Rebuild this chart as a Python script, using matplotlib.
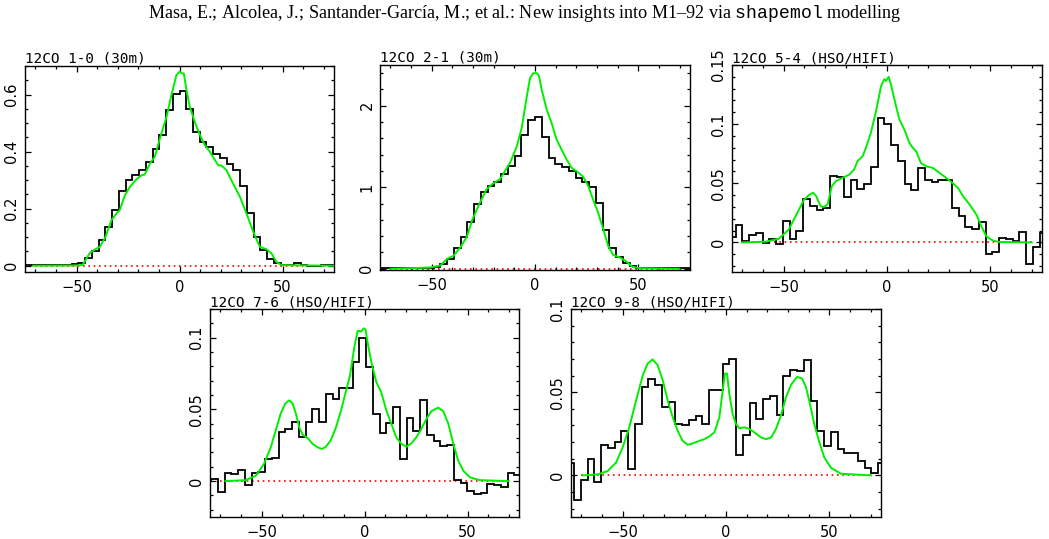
import numpy as np
import matplotlib
matplotlib.use('Agg')
import matplotlib.pyplot as plt
from matplotlib.ticker import MultipleLocator, FuncFormatter

# channel width of the observed spectra (km/s)
DV = 3.27

# --- 12CO 1-0 (30m) ---
co10_edge0 = -75.21
co10_obs = [0.002, 0.002, 0.002, 0.002, 0.002, 0.002, 0.003, 0.006, 0.010, 0.026,
            0.050, 0.090, 0.134, 0.195, 0.263, 0.300, 0.317, 0.337, 0.364, 0.408,
            0.458, 0.545, 0.603, 0.613, 0.549, 0.469, 0.434, 0.417, 0.393, 0.376,
            0.356, 0.335, 0.280, 0.185, 0.100, 0.055, 0.025, 0.010, 0.002, 0.002,
            0.008, 0.001, 0.000, -0.002, 0.001, 0.003]
co10_mod_v = [-71, -50, -47, -43.5, -41.5, -38.7, -36, -33, -30.6, -29, -26.5, -24,
              -21, -18.4, -16.8, -14.4, -12, -9.5, -6.3, -3.9, -1.5, 0, 1.3, 2.1,
              3.4, 5, 7.4, 9.9, 12.3, 14.7, 17.2, 18.8, 20.4, 22.8, 26, 29.3, 32.5,
              35.8, 39, 42.2, 44.7, 47, 49.5, 74.6]
co10_mod_t = [0.0, 0.001, 0.003, 0.045, 0.055, 0.066, 0.100, 0.160, 0.183, 0.195,
              0.247, 0.277, 0.302, 0.317, 0.320, 0.358, 0.382, 0.446, 0.522, 0.598,
              0.668, 0.680, 0.674, 0.674, 0.615, 0.557, 0.504, 0.458, 0.423, 0.400,
              0.370, 0.352, 0.351, 0.335, 0.288, 0.242, 0.183, 0.119, 0.066, 0.058,
              0.043, 0.014, 0.002, 0.0]

# --- 12CO 2-1 (30m) ---
co21_edge0 = -75.21
co21_obs = [0.01, 0.01, 0.01, 0.01, 0.01, 0.01, 0.01, 0.01, 0.02, 0.06,
            0.12, 0.25, 0.39, 0.57, 0.80, 0.94, 1.02, 1.07, 1.16, 1.26,
            1.38, 1.64, 1.82, 1.86, 1.62, 1.36, 1.29, 1.25, 1.20, 1.11,
            1.06, 1.00, 0.81, 0.48, 0.26, 0.14, 0.07, 0.03, 0.01, 0.005,
            0.005, 0.005, 0.005, 0.005, 0.005, 0.005]
co21_mod_v = [-70, -50.6, -45.8, -42.6, -39.4, -36.2, -33, -30.5, -28.1, -25.7, -23.3,
              -20.1, -16.9, -14.5, -12.1, -8.8, -6.4, -4.0, -2.4, -0.8, 0.8, 1.9,
              3.2, 5.6, 8.0, 10.4, 12.9, 15.3, 17.7, 20.9, 23.3, 25.7, 28.1, 30.5,
              33.0, 35.4, 37.8, 41.0, 44.2, 47.1, 50.6, 70]
co21_mod_t = [0.0, 0.016, 0.04, 0.12, 0.16, 0.26, 0.39, 0.59, 0.73, 0.86, 0.98,
              1.05, 1.10, 1.20, 1.30, 1.50, 1.73, 2.11, 2.34, 2.40, 2.40, 2.37,
              2.20, 1.96, 1.79, 1.59, 1.46, 1.34, 1.24, 1.18, 1.13, 1.02, 0.85, 0.69,
              0.49, 0.28, 0.17, 0.14, 0.09, 0.024, 0.008, 0.0]

# --- 12CO 5-4 (HSO/HIFI) ---
co54_edge0 = -76.51
co54_obs = [0.005, 0.015, 0.001, 0.0065, 0.008, -0.0005, 0.003, -0.001, 0.018, 0.003,
            0.010, 0.037, 0.031, 0.027, 0.029, 0.0565, 0.0555, 0.038, 0.053, 0.045,
            0.049, 0.064, 0.105, 0.100, 0.082, 0.069, 0.049, 0.044, 0.063, 0.053,
            0.051, 0.0525, 0.0525, 0.029, 0.022, 0.013, 0.011, 0.017, -0.010, -0.008,
            0.004, 0.003, 0.0015, 0.0085, -0.018, -0.0035, 0.008]
co54_mod_v = [-70.2, -58.8, -52.4, -47.5, -43.4, -40.2, -37.8, -35.7, -34.2, -32.1,
              -30.5, -28.8, -26.7, -24.8, -21.6, -18.3, -15.9, -14.3, -11.8, -10.2,
              -7.8, -5.3, -2.9, -1.3, -0.5, 0.8, 1.9, 4.4, 6.0, 8.4, 10.9, 12.5, 14.1,
              16.5, 19.0, 22.2, 25.4, 28.7, 31.9, 34.4, 36.8, 40.0, 43.3, 45.7, 48.1,
              51.4, 54.6, 70]
co54_mod_t = [0.0, 0.0006, 0.003, 0.011, 0.025, 0.036, 0.040, 0.042, 0.039, 0.0305,
              0.030, 0.032, 0.0475, 0.0517, 0.0545, 0.0573, 0.0616, 0.0686, 0.0729, 0.080,
              0.0927, 0.111, 0.132, 0.138, 0.1365, 0.140, 0.1336, 0.115, 0.104, 0.0955,
              0.084, 0.080, 0.077, 0.067, 0.0644, 0.063, 0.0588, 0.0545, 0.050, 0.046,
              0.039, 0.032, 0.0234, 0.0136, 0.005, 0.0014, 0.0003, 0.0]

# --- 12CO 7-6 (HSO/HIFI) ---
co76_edge0 = -77.65
co76_obs = [0.0, 0.0014, -0.0075, 0.006, 0.005, 0.008, -0.0026, 0.0054, 0.0065, 0.0154,
            0.016, 0.034, 0.0365, 0.041, 0.031, 0.041, 0.050, 0.041, 0.061, 0.0575,
            0.065, 0.065, 0.083, 0.0995, 0.0797, 0.047, 0.0334, 0.0407, 0.0516, 0.0154,
            0.044, 0.0353, 0.0568, 0.0325, 0.0283, 0.0248, 0.0255, 0.0007, -0.001, -0.0068,
            -0.009, -0.008, -0.002, -0.0028, -0.0044, 0.0058, 0.0042]
co76_mod_v = [-67.5, -57.7, -52.8, -48.8, -45.5, -43.1, -40.7, -38.5, -36.6, -35.0,
              -33.3, -31.7, -30.1, -27.6, -25.2, -22.8, -20.7, -18.7, -16.3, -13.8,
              -11.4, -8.9, -7.0, -4.9, -3.3, -1.6, -0.5, 0.5, 1.6, 3.3, 5.7, 8.1, 10.6,
              13.0, 15.4, 17.9, 20.3, 22.8, 25.2, 27.6, 30.1, 32.5, 35.8, 38.2, 40.7,
              43.1, 45.5, 48.0, 51.2, 56.1, 70]
co76_mod_t = [0.0, 0.0007, 0.0037, 0.012, 0.0236, 0.0353, 0.047, 0.054, 0.0563, 0.0544,
              0.047, 0.0376, 0.0325, 0.030, 0.026, 0.0236, 0.0224, 0.024, 0.0287, 0.0376,
              0.0493, 0.0633, 0.0738, 0.0937, 0.1049, 0.1042, 0.1065, 0.1058, 0.096, 0.0832,
              0.0692, 0.0621, 0.0493, 0.040, 0.0306, 0.026, 0.024, 0.0264, 0.0306, 0.0364,
              0.0435, 0.0488, 0.0512, 0.0488, 0.040, 0.026, 0.0143, 0.0072, 0.0026, 0.0007,
              0.0]

# --- 12CO 9-8 (HSO/HIFI) ---
co98_edge0 = -76.82
co98_obs = [0.0077, -0.0145, -0.003, 0.0097, -0.004, 0.0184, 0.0164, 0.020, 0.0265, 0.0036,
            0.031, 0.053, 0.058, 0.0545, 0.041, 0.044, 0.031, 0.030, 0.033, 0.0356,
            0.031, 0.0515, 0.0515, 0.067, 0.0697, 0.012, 0.0244, 0.0436, 0.034, 0.046,
            0.0475, 0.036, 0.0596, 0.0636, 0.0626, 0.0693, 0.045, 0.0265, 0.0174, 0.0259,
            0.0158, 0.0137, 0.0133, 0.0087, 0.0046, 0.0016, 0.0073]
co98_mod_v = [-69.4, -62.1, -57.3, -53.2, -50, -46.8, -43.5, -40.3, -37.9, -35.5,
              -33.1, -30.6, -28.2, -25.8, -23.4, -21.0, -18.5, -16.1, -13.7, -10.5,
              -8.1, -5.6, -3.2, -1.6, -0.5, 0.5, 1.6, 3.2, 4.8, 6.5, 8.9, 11.3, 13.7,
              16.9, 19.4, 21.8, 24.2, 26.6, 29.0, 31.5, 34.4, 36.8, 38.7, 40.8, 42.7,
              45.2, 47.6, 50.8, 55.6, 70.2]
co98_mod_t = [0.0, 0.0006, 0.0026, 0.0077, 0.0168, 0.0289, 0.045, 0.060, 0.0673, 0.0697,
              0.0663, 0.0572, 0.045, 0.035, 0.0269, 0.0208, 0.0184, 0.0192, 0.0204, 0.0218,
              0.0234, 0.0259, 0.035, 0.0511, 0.0612, 0.0612, 0.049, 0.037, 0.0309, 0.0283,
              0.0289, 0.0279, 0.0259, 0.0228, 0.0218, 0.0228, 0.0279, 0.036, 0.047, 0.0545,
              0.0592, 0.0582, 0.0531, 0.042, 0.0309, 0.0198, 0.0107, 0.0046, 0.001, 0.0]

# baseline (red dotted) extent, km/s
baseline_v = [-70, 70]


def tick_label(v, pos):
    # plain numbers, long minus sign like the original plots
    if abs(v) < 1e-9:
        return '0'
    return f'{v:g}'.replace('-', '\u2212')


def draw_panel(fig, rect, title, edge0, obs, mod_v, mod_t, ylim, ymajor, yminor):
    """One spectrum: observed histogram, model curve and zero baseline."""
    ax = fig.add_axes(rect)
    edges = edge0 + DV * np.arange(len(obs) + 1)

    ax.plot(baseline_v, [0, 0], color='red', lw=1.2, ls=(0, (1, 2.2)), zorder=1)
    ax.stairs(obs, edges, baseline=None, color='black', lw=1.3, zorder=2)
    ax.plot(mod_v, mod_t, color='#00ee00', lw=1.4, zorder=3)

    ax.set_xlim(-75, 75)
    ax.set_ylim(*ylim)
    ax.xaxis.set_major_locator(MultipleLocator(50))
    ax.xaxis.set_minor_locator(MultipleLocator(10))
    ax.yaxis.set_major_locator(MultipleLocator(ymajor))
    ax.yaxis.set_minor_locator(MultipleLocator(yminor))
    ax.xaxis.set_major_formatter(FuncFormatter(tick_label))
    ax.yaxis.set_major_formatter(FuncFormatter(tick_label))

    ax.tick_params(which='both', direction='in', top=True, right=True, width=0.9)
    ax.tick_params(which='major', length=4.5)
    ax.tick_params(which='minor', length=2.2)
    ax.tick_params(axis='x', pad=6, labelsize=10.5)
    ax.tick_params(axis='y', pad=4, labelsize=10.5, labelrotation=90)
    for lab in ax.get_yticklabels():
        lab.set_va('center')
    for sp in ax.spines.values():
        sp.set_linewidth(1.0)

    ax.set_title(title, loc='left', pad=2, fontsize=10.3, family='DejaVu Sans Mono')
    return ax


def main():
    plt.rcParams['font.family'] = 'DejaVu Sans'
    plt.rcParams['mathtext.fontset'] = 'custom'
    plt.rcParams['mathtext.rm'] = 'Liberation Serif'
    plt.rcParams['mathtext.tt'] = 'Liberation Mono'

    W, H = 1049, 539
    fig = plt.figure(figsize=(W / 100, H / 100), dpi=100)

    def px(x0, y0, x1, y1):
        # pixel box (left, top, right, bottom) -> figure fraction rect
        return [x0 / W, 1 - y1 / H, (x1 - x0) / W, (y1 - y0) / H]

    draw_panel(fig, px(25, 66, 334, 272), '12CO 1-0 (30m)',
               co10_edge0, co10_obs, co10_mod_v, co10_mod_t,
               (-0.022, 0.7), 0.2, 0.05)
    draw_panel(fig, px(380, 65, 690, 270), '12CO 2-1 (30m)',
               co21_edge0, co21_obs, co21_mod_v, co21_mod_t,
               (-0.015, 2.5), 1, 0.2)
    draw_panel(fig, px(732, 65, 1042, 272), '12CO 5-4 (HSO/HIFI)',
               co54_edge0, co54_obs, co54_mod_v, co54_mod_t,
               (-0.025, 0.15), 0.05, 0.01)
    draw_panel(fig, px(210, 309, 519, 517), '12CO 7-6 (HSO/HIFI)',
               co76_edge0, co76_obs, co76_mod_v, co76_mod_t,
               (-0.025, 0.12), 0.05, 0.01)
    draw_panel(fig, px(571, 309, 881, 517), '12CO 9-8 (HSO/HIFI)',
               co98_edge0, co98_obs, co98_mod_v, co98_mod_t,
               (-0.025, 0.1), 0.05, 0.01)

    fig.text(0.5, 1 - 13 / H,
             'Masa, E.; Alcolea, J.; Santander-García, M.; et al.: '
             'New insights into M1–92 via $\\mathtt{shapemol}$ modelling',
             ha='center', va='center', fontsize=13.1, family='Liberation Serif')

    fig.savefig('out.png', dpi=100)


if __name__ == '__main__':
    main()
